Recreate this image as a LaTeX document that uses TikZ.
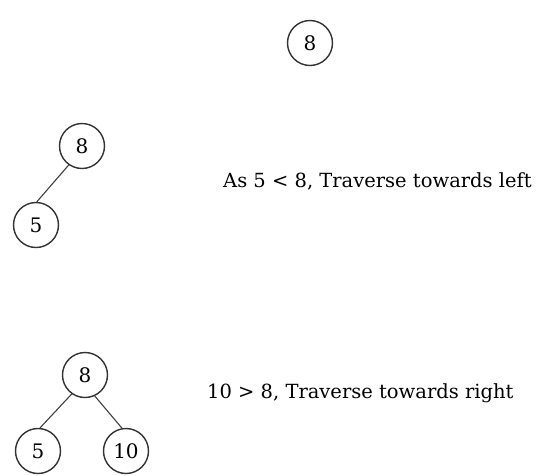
\documentclass[tikz,border=0pt]{standalone}
\usepackage{fontspec}
\setmainfont{DejaVu Serif}
\begin{document}
\begin{tikzpicture}[x=1pt,y=-1pt,
  tnode/.style={draw=black!80, circle, minimum size=45pt, inner sep=0pt, line width=1.4pt, font=\fontsize{20}{22}\selectfont},
  edge/.style={draw=black!75, line width=1.1pt},
  lbl/.style={anchor=base west, inner sep=0pt, font=\fontsize{19.5}{22}\selectfont}]
\useasboundingbox[fill=white] (0,0) rectangle (542,475);
% step 1
\node[tnode] (a8) at (310,43) {8};
% step 2
\node[tnode] (b8) at (82,146) {8};
\node[tnode] (b5) at (36,225) {5};
\draw[edge] (b8.235) -- (b5.88);
\node[lbl] (t1) at (223,187) {As 5 < 8, Traverse towards left};
% step 3
\node[tnode] (c8) at (85,375) {8};
\node[tnode] (c5) at (38,451) {5};
\node[tnode] (c10) at (126,451) {10};
\draw[edge] (c8.235) -- (c5.85);
\draw[edge] (c8.295) -- (c10.100);
\node[lbl] (t2) at (207,398) {10 > 8, Traverse towards right};
\end{tikzpicture}
\end{document}
